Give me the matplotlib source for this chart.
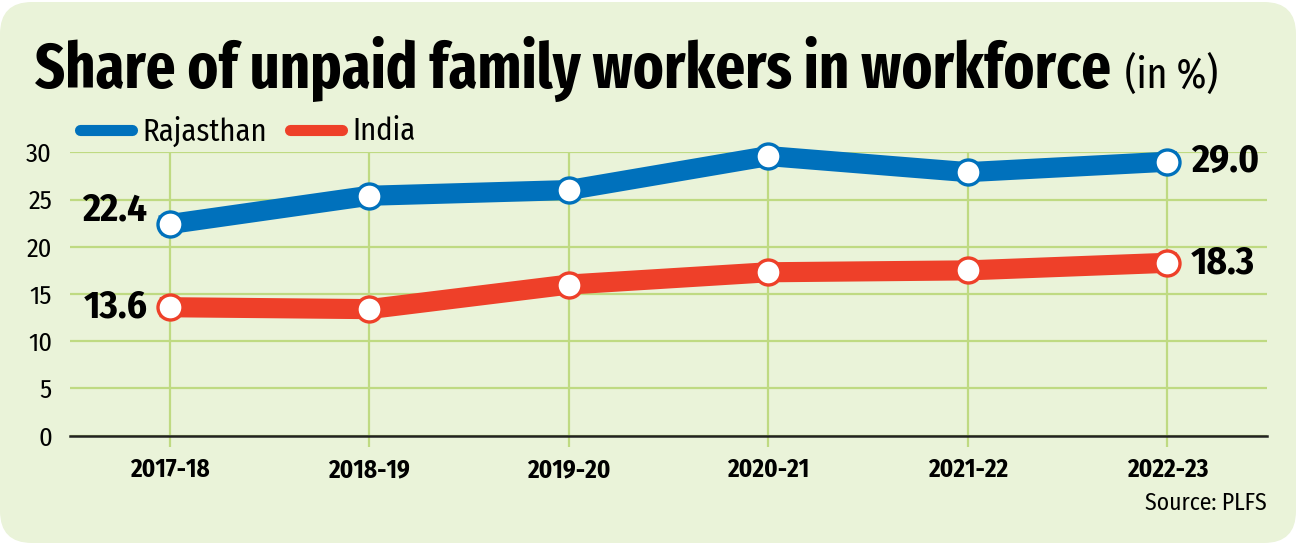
import numpy as np
import matplotlib
matplotlib.use('Agg')
import matplotlib.pyplot as plt
from matplotlib import font_manager
from matplotlib.patches import FancyBboxPatch
from matplotlib.lines import Line2D

# data
years = ['2017-18', '2018-19', '2019-20', '2020-21', '2021-22', '2022-23']
rajasthan = [22.4, 25.4, 26.0, 29.6, 27.9, 29.0]
india = [13.6, 13.4, 16.0, 17.3, 17.5, 18.3]
y_ticks = [0, 5, 10, 15, 20, 25, 30]

BLUE = '#0071BC'
RED = '#EE4029'
BG = '#EAF3D9'
GRID = '#BFDA82'

# pick a condensed face if one is around
have = {f.name for f in font_manager.fontManager.ttflist}
cands = ['Fira Sans Condensed', 'Roboto Condensed', 'PT Sans Narrow', 'Open Sans Condensed',
         'IBM Plex Sans Condensed', 'Archivo Narrow', 'Barlow Condensed']
cond = [c for c in cands if c in have][:1]
plt.rcParams['font.family'] = cond + ['DejaVu Sans']
title_cands = ['Fira Sans Extra Condensed'] + cands
title_font = [c for c in title_cands if c in have][:1] + ['DejaVu Sans']

W, H = 1299, 543
fig = plt.figure(figsize=(W / 100, H / 100), dpi=100)
fig.patch.set_facecolor('white')
bg = FancyBboxPatch((0, 0), 1296 / W, 541 / H, boxstyle='round,pad=0,rounding_size=0.0246',
                    mutation_aspect=W / H, transform=fig.transFigure, facecolor=BG,
                    edgecolor='none', zorder=-5)
fig.patches.append(bg)

ax = fig.add_axes([70 / W, 1 - 435.7 / H, 1197 / W, (435.7 - 152.3) / H])
ax.set_facecolor('none')
x = np.arange(len(years))

ax.set_xlim(-0.5, len(years) - 0.5)
ax.set_ylim(0, 30)
ax.set_yticks(y_ticks)
ax.set_xticks(x)
ax.set_xticklabels(years, fontsize=18, fontweight='bold')
ax.tick_params(axis='x', length=8, width=1.6, color=GRID, pad=8)
ax.tick_params(axis='y', length=0, pad=13, labelsize=19)

for s in ['top', 'right', 'left']:
    ax.spines[s].set_visible(False)
ax.spines['bottom'].set_color('#222222')
ax.spines['bottom'].set_linewidth(1.8)
ax.spines['bottom'].set_zorder(2)

ax.grid(True, color=GRID, linewidth=1.6, zorder=1)
ax.set_axisbelow(True)

for vals, col in [(rajasthan, BLUE), (india, RED)]:
    ax.plot(x, vals, color=col, linewidth=14.5, solid_joinstyle='miter', zorder=3, clip_on=False)
    ax.plot(x, vals, linestyle='none', marker='o', markersize=18, markerfacecolor='white',
            markeredgecolor=col, markeredgewidth=2.4, zorder=4, clip_on=False)

# end labels
ax.annotate(f'{rajasthan[0]:.1f}', (x[0], rajasthan[0]), xytext=(-16, 10), textcoords='offset points',
            ha='right', va='center', fontsize=28, fontweight='bold')
ax.annotate(f'{india[0]:.1f}', (x[0], india[0]), xytext=(-16, 0), textcoords='offset points',
            ha='right', va='center', fontsize=28, fontweight='bold')
ax.annotate(f'{rajasthan[-1]:.1f}', (x[-1], rajasthan[-1]), xytext=(17, 0), textcoords='offset points',
            ha='left', va='center', fontsize=28, fontweight='bold')
ax.annotate(f'{india[-1]:.1f}', (x[-1], india[-1]), xytext=(17, 0), textcoords='offset points',
            ha='left', va='center', fontsize=28, fontweight='bold')

handles = [Line2D([], [], color=BLUE, linewidth=8, solid_capstyle='round'),
           Line2D([], [], color=RED, linewidth=8, solid_capstyle='round')]
fig.legend(handles, ['Rajasthan', 'India'], loc='center left', bbox_to_anchor=(80 / W, 1 - 131 / H),
           ncol=2, frameon=False, fontsize=22, handlelength=1.7, handletextpad=0.35, columnspacing=0.75,
           borderaxespad=0, borderpad=0)

title = fig.text(35 / W, 1 - 88 / H, 'Share of unpaid family workers in workforce', fontsize=45.5,
                 fontweight='bold', ha='left', va='baseline', family=title_font)
fig.canvas.draw()
tb = title.get_window_extent()
fig.text((tb.x1 + 14) / W, 1 - 88 / H, '(in %)', fontsize=31, ha='left', va='baseline',
         family=title_font)
fig.text(1267 / W, 1 - 503 / H, 'Source: PLFS', fontsize=17, ha='right', va='center')

fig.savefig('out.png', dpi=100, facecolor=fig.get_facecolor())
